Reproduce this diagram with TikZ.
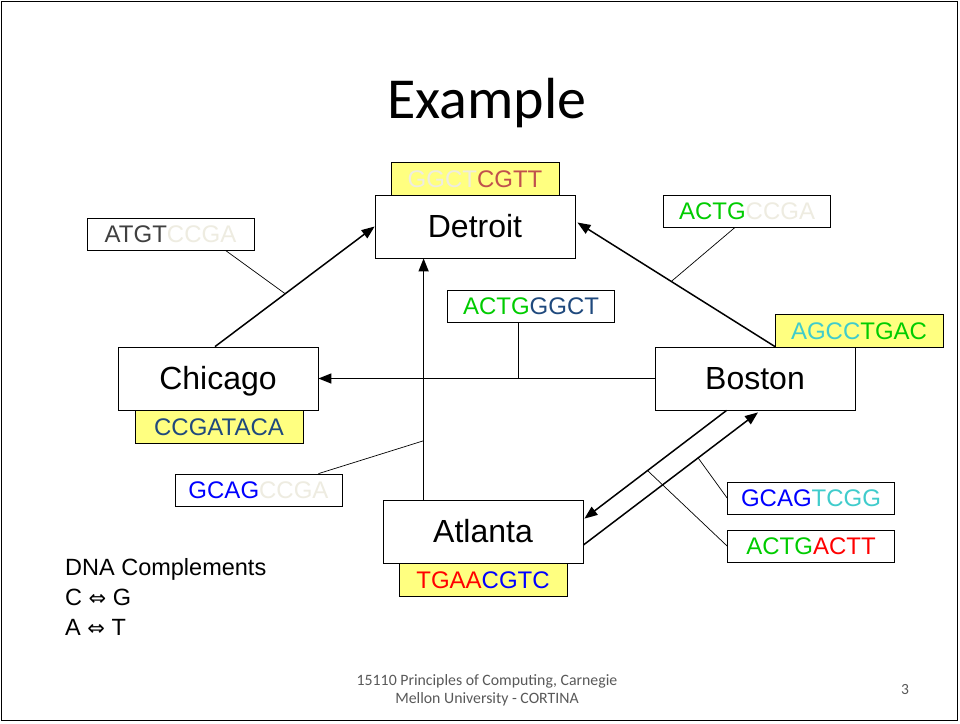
\documentclass[tikz,border=0pt]{standalone}
\usepackage{fontspec}
\setmainfont{Liberation Sans}
\newfontfamily\calib{Carlito}
\newfontfamily\dejavu{DejaVu Sans}
\usetikzlibrary{arrows.meta,calc}
\definecolor{cream}{HTML}{EEECE1}
\definecolor{brick}{HTML}{C0504D}
\definecolor{navy}{HTML}{1F497D}
\definecolor{grn}{HTML}{00CC00}
\definecolor{cyn}{HTML}{40CCCC}
\definecolor{blu}{HTML}{0000FF}
\definecolor{rd}{HTML}{FF0000}
\definecolor{dgray}{HTML}{404040}
\definecolor{tagyellow}{HTML}{FFFF80}
\definecolor{foot}{HTML}{595959}
\begin{document}
\begin{tikzpicture}[x=1pt,y=-1pt,
  city/.style={draw=black,line width=0.8pt,fill=white,minimum width=200pt,minimum height=63pt,inner sep=0pt,
    font=\fontsize{32}{36}\selectfont,text height=22.9pt,text depth=0pt},
  tag/.style={draw=black,line width=0.8pt,fill=tagyellow,minimum width=168pt,minimum height=33pt,inner sep=0pt,
    font=\fontsize{24}{28}\selectfont,text height=17.2pt,text depth=0pt},
  lab/.style={draw=black,line width=0.8pt,fill=white,minimum width=167pt,minimum height=32pt,inner sep=0pt,
    font=\fontsize{24}{28}\selectfont,text height=17.2pt,text depth=0pt},
  conn/.style={line width=1.5pt,-{Triangle[length=13pt,width=10pt]}},
  callout/.style={line width=0.7pt},
  note/.style={anchor=base west,inner sep=0pt,font=\fontsize{23.5}{28}\selectfont}
]
\useasboundingbox (0,0) rectangle (960,723);
\fill[white] (0,0) rectangle (960,723);
\draw[line width=1pt] (1.5,1) rectangle (957,720.5);

\node[anchor=base,inner sep=0pt,font=\calib\fontsize{58}{64}\selectfont] (title) at (487,118) {Example};

% tags
\node[tag] (dtag) at (475,178.5) {\textcolor{cream}{GGCT}\textcolor{brick}{CGTT}};
\node[tag] (ctag) at (219,426.5) {\textcolor{navy}{CCGATACA}};
\node[tag] (btag) at (859,330.5) {\textcolor{cyn}{AGCC}\textcolor{grn}{TGAC}};
\node[tag] (atag) at (483,579.5) {\textcolor{rd}{TGAA}\textcolor{blu}{CGTC}};

% cities
\node[city] (detroit) at (475,226.5) {Detroit};
\node[city] (chicago) at (218,378.5) {Chicago};
\node[city] (boston) at (755,378.5) {Boston};
\node[city] (atlanta) at (483,531.5) {Atlanta};

% labels
\node[lab] (l1) at (170.5,234) {\textcolor{dgray}{ATGT}\textcolor{cream}{CCGA}};
\node[lab] (l2) at (747,211) {\textcolor{grn}{ACTG}\textcolor{cream}{CCGA}};
\node[lab] (l3) at (531,306) {\textcolor{grn}{ACTG}\textcolor{navy}{GGCT}};
\node[lab] (l4) at (258.5,490) {\textcolor{blu}{GCAG}\textcolor{cream}{CCGA}};
\node[lab] (l5) at (811,498) {\textcolor{blu}{GCAG}\textcolor{cyn}{TCGG}};
\node[lab] (l6) at (811,546) {\textcolor{grn}{ACTG}\textcolor{rd}{ACTT}};

% connectors
\draw[conn] ($(chicago.north)+(-3,0)$) -- coordinate[pos=0.44] (p1) (detroit.west);
\draw[conn] ($(boston.north)+(20,0)$) -- coordinate[pos=0.525] (p2) ($(detroit.east)+(2,-4)$);
\draw[conn] (boston.west) -- coordinate[pos=0.404] (p3) (chicago.east);
\draw[conn] ($(atlanta.north west)+(41,0)$) -- coordinate[pos=0.244] (p4) ($(detroit.south west)+(49,0)$);
\draw[conn] ($(boston.south west)+(72,0)$) -- coordinate[pos=0.556] (p6) ($(atlanta.north east)+(1,19)$);
\draw[conn] ($(atlanta.east)+(0,13.5)$) -- coordinate[pos=0.657] (p5) ($(boston.south)+(3,2)$);

% callouts
\draw[callout] ($(l1.south)+(55,0)$) -- (p1);
\draw[callout] ($(l2.south)+(-12,0)$) -- (p2);
\draw[callout] ($(l3.south)+(-12,0)$) -- (l3.south -| p3) -- (p3);
\draw[callout] ($(l4.north)+(60,0)$) -- (p4);
\draw[callout] (l5.west) -- (p5);
\draw[callout] (l6.west) -- (p6);

% notes
\node[note] (n1) at (65,575) {DNA Complements};
\node[note] (n2) at (65,605) {C {\dejavu\fontsize{21}{24}\selectfont ⇔} G};
\node[note] (n3) at (65,635) {A {\dejavu\fontsize{21}{24}\selectfont ⇔} T};

% footer
\node[align=center,inner sep=0pt,text=foot,font=\calib\fontsize{15.8}{18}\selectfont] (ft) at (487,690) {15110 Principles of Computing, Carnegie\\Mellon University - CORTINA};
\node[inner sep=0pt,text=foot,font=\calib\fontsize{15.5}{18}\selectfont] (pg) at (905,690) {3};
\end{tikzpicture}
\end{document}
